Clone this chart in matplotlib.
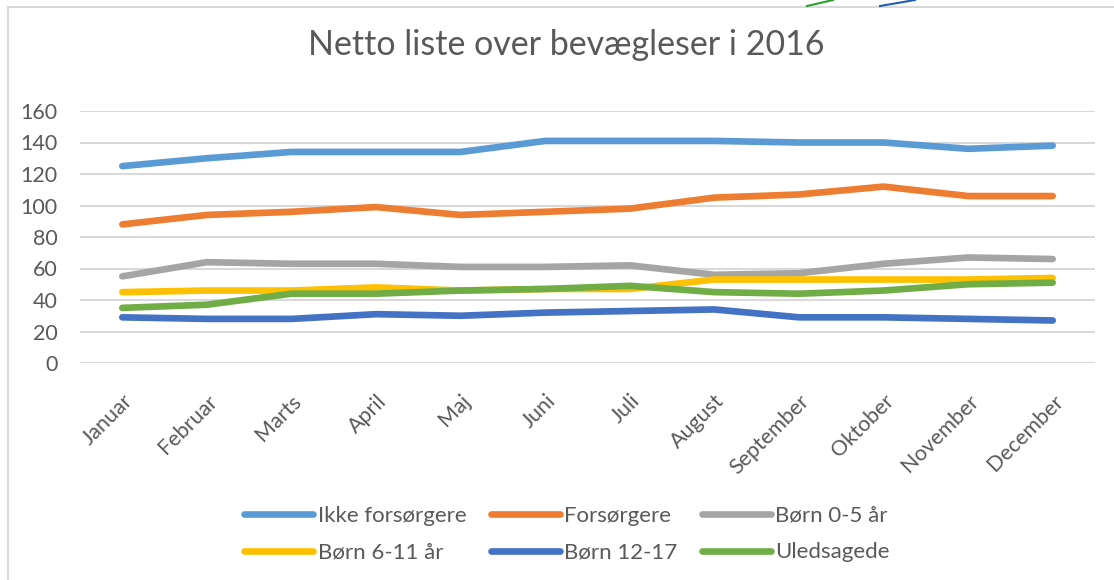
import matplotlib.pyplot as plt
from matplotlib.lines import Line2D

plt.rcParams['font.family'] = ['Lato', 'DejaVu Sans']

# data
months = ["Januar", "Februar", "Marts", "April", "Maj", "Juni", "Juli",
          "August", "September", "Oktober", "November", "December"]
ikke_forsorgere = [125, 130, 134, 134, 134, 141, 141, 141, 140, 140, 136, 138]
forsorgere = [88, 94, 96, 99, 94, 96, 98, 105, 107, 112, 106, 106]
born_0_5 = [55, 64, 63, 63, 61, 61, 62, 56, 57, 63, 67, 66]
born_6_11 = [45, 46, 46, 48, 46, 47, 47, 53, 53, 53, 53, 54]
born_12_17 = [29, 28, 28, 31, 30, 32, 33, 34, 29, 29, 28, 27]
uledsagede = [35, 37, 44, 44, 46, 47, 49, 45, 44, 46, 50, 51]

series = [
    ("Ikke forsørgere", ikke_forsorgere, "#5B9BD5"),
    ("Forsørgere", forsorgere, "#ED7D31"),
    ("Børn 0-5 år", born_0_5, "#A5A5A5"),
    ("Børn 6-11 år", born_6_11, "#FFC000"),
    ("Børn 12-17", born_12_17, "#4472C4"),
    ("Uledsagede", uledsagede, "#70AD47"),
]

txt = "#595959"
fig = plt.figure(figsize=(11.14, 5.8), dpi=100)
ax = fig.add_axes([80 / 1114, 1 - 363 / 580, 1015 / 1114, 252 / 580])

x = range(len(months))
lines = []
for name, vals, col in series:
    l, = ax.plot(x, vals, color=col, lw=4.8, label=name, solid_capstyle='round')
    lines.append(l)

ax.set_xlim(-0.5, len(months) - 0.5)
ax.set_ylim(0, 160)
ax.set_yticks(range(0, 161, 20))
ax.set_xticks(list(x))
ax.set_xticklabels(months, rotation=45, ha='right', rotation_mode='anchor')
ax.tick_params(axis='both', length=0, labelsize=15.5, colors=txt)
ax.tick_params(axis='y', pad=16)
ax.tick_params(axis='x', pad=20)
ax.grid(axis='y', color='#D9D9D9', lw=1.5)
ax.set_axisbelow(True)
for s in ax.spines.values():
    s.set_visible(False)

fig.text(566 / 1114, 1 - 45 / 580, "Netto liste over bevægleser i 2016",
         ha='center', va='center', fontsize=24.5, color=txt)

# legend rows read left to right like Excel
order = [0, 3, 1, 4, 2, 5]
fig.legend([lines[i] for i in order], [series[i][0] for i in order],
           loc='center', bbox_to_anchor=(567 / 1114, 1 - 534 / 580),
           ncol=3, frameon=False, fontsize=16, handlelength=3.1,
           handletextpad=0.2, columnspacing=1.1, labelspacing=0.75,
           labelcolor=txt)

# chart frame and bits of the chart above
fig.add_artist(Line2D([8 / 1114, 8 / 1114], [0, 1 - 7 / 580], color='#D9D9D9', lw=1.5))
fig.add_artist(Line2D([8 / 1114, 1], [1 - 7 / 580, 1 - 7 / 580], color='#D9D9D9', lw=1.5))
fig.add_artist(Line2D([807 / 1114, 833 / 1114], [1 - 6 / 580, 1], color='#2CA02C', lw=1.5))
fig.add_artist(Line2D([880 / 1114, 915 / 1114], [1 - 6 / 580, 1], color='#1F5FAF', lw=1.5))

fig.savefig("out.png", dpi=100)
